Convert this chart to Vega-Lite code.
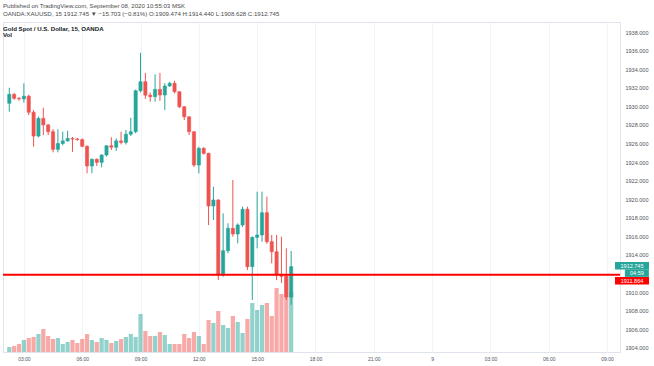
{
  "$schema": "https://vega.github.io/schema/vega-lite/v6.json",
  "width": 617,
  "height": 330,
  "autosize": "none",
  "padding": {"left": 3, "top": 22, "right": 34, "bottom": 14},
  "background": "white",
  "title": {
    "text": ["Published on TradingView.com, September 08, 2020 10:55:03 MSK", "OANDA:XAUUSD, 15  1912.745 ▼ −15.703 (−0.81%) O:1909.474 H:1914.440 L:1908.628 C:1912.745"],
    "subtitle": ["Gold Spot / U.S. Dollar, 15, OANDA", "Vol"],
    "anchor": "start",
    "frame": "group",
    "offset": -16,
    "font": "Liberation Sans",
    "fontSize": 6.1,
    "fontWeight": "normal",
    "color": "#4a4a4a",
    "lineHeight": 8.3,
    "subtitleFont": "Liberation Sans",
    "subtitleFontSize": 6.1,
    "subtitleColor": "#131722",
    "subtitleLineHeight": 6.3,
    "subtitlePadding": 8.5,
    "subtitleFontWeight": "bold"
  },
  "datasets": {
    "candles": [
      {"t": "2020-09-08T02:15:00Z", "o": 1930.33, "h": 1932.00, "l": 1929.42, "c": 1931.29, "v": 500},
      {"t": "2020-09-08T02:30:00Z", "o": 1931.29, "h": 1931.45, "l": 1930.70, "c": 1930.86, "v": 600},
      {"t": "2020-09-08T02:45:00Z", "o": 1930.86, "h": 1931.00, "l": 1930.60, "c": 1930.80, "v": 800},
      {"t": "2020-09-08T03:00:00Z", "o": 1930.80, "h": 1932.48, "l": 1930.40, "c": 1931.10, "v": 1200},
      {"t": "2020-09-08T03:15:00Z", "o": 1931.10, "h": 1931.25, "l": 1929.07, "c": 1929.36, "v": 1400},
      {"t": "2020-09-08T03:30:00Z", "o": 1929.36, "h": 1929.60, "l": 1925.65, "c": 1926.80, "v": 1500},
      {"t": "2020-09-08T03:45:00Z", "o": 1926.80, "h": 1928.90, "l": 1926.66, "c": 1928.70, "v": 1800},
      {"t": "2020-09-08T04:00:00Z", "o": 1928.70, "h": 1929.85, "l": 1926.90, "c": 1928.00, "v": 2300},
      {"t": "2020-09-08T04:15:00Z", "o": 1928.00, "h": 1928.10, "l": 1926.90, "c": 1927.27, "v": 1600},
      {"t": "2020-09-08T04:30:00Z", "o": 1927.27, "h": 1927.56, "l": 1925.05, "c": 1925.37, "v": 1300},
      {"t": "2020-09-08T04:45:00Z", "o": 1925.37, "h": 1927.53, "l": 1925.05, "c": 1926.00, "v": 1400},
      {"t": "2020-09-08T05:00:00Z", "o": 1926.00, "h": 1927.27, "l": 1925.80, "c": 1926.28, "v": 800},
      {"t": "2020-09-08T05:15:00Z", "o": 1926.28, "h": 1927.37, "l": 1926.20, "c": 1926.54, "v": 1000},
      {"t": "2020-09-08T05:30:00Z", "o": 1926.54, "h": 1926.70, "l": 1925.10, "c": 1926.48, "v": 1200},
      {"t": "2020-09-08T05:45:00Z", "o": 1926.48, "h": 1926.60, "l": 1926.30, "c": 1926.42, "v": 900},
      {"t": "2020-09-08T06:00:00Z", "o": 1926.42, "h": 1926.55, "l": 1925.60, "c": 1925.70, "v": 1300},
      {"t": "2020-09-08T06:15:00Z", "o": 1925.70, "h": 1925.80, "l": 1922.80, "c": 1923.58, "v": 1800},
      {"t": "2020-09-08T06:30:00Z", "o": 1923.58, "h": 1924.40, "l": 1922.80, "c": 1924.30, "v": 1200},
      {"t": "2020-09-08T06:45:00Z", "o": 1924.30, "h": 1924.40, "l": 1923.58, "c": 1923.97, "v": 1000},
      {"t": "2020-09-08T07:00:00Z", "o": 1923.97, "h": 1924.85, "l": 1923.44, "c": 1924.76, "v": 1400},
      {"t": "2020-09-08T07:15:00Z", "o": 1924.76, "h": 1925.80, "l": 1924.60, "c": 1925.76, "v": 1200},
      {"t": "2020-09-08T07:30:00Z", "o": 1925.76, "h": 1926.67, "l": 1925.30, "c": 1925.60, "v": 900},
      {"t": "2020-09-08T07:45:00Z", "o": 1925.60, "h": 1926.55, "l": 1925.20, "c": 1926.28, "v": 1100},
      {"t": "2020-09-08T08:00:00Z", "o": 1926.28, "h": 1927.27, "l": 1925.90, "c": 1926.12, "v": 1300},
      {"t": "2020-09-08T08:15:00Z", "o": 1926.12, "h": 1927.45, "l": 1925.90, "c": 1927.00, "v": 1500},
      {"t": "2020-09-08T08:30:00Z", "o": 1927.00, "h": 1928.78, "l": 1926.80, "c": 1927.27, "v": 1800},
      {"t": "2020-09-08T08:45:00Z", "o": 1927.27, "h": 1931.80, "l": 1927.10, "c": 1931.68, "v": 1500},
      {"t": "2020-09-08T09:00:00Z", "o": 1931.68, "h": 1935.77, "l": 1931.50, "c": 1932.65, "v": 3800},
      {"t": "2020-09-08T09:15:00Z", "o": 1932.65, "h": 1933.60, "l": 1930.80, "c": 1931.20, "v": 2100},
      {"t": "2020-09-08T09:30:00Z", "o": 1931.20, "h": 1931.50, "l": 1930.50, "c": 1931.04, "v": 1600},
      {"t": "2020-09-08T09:45:00Z", "o": 1931.04, "h": 1933.45, "l": 1930.50, "c": 1931.83, "v": 1600},
      {"t": "2020-09-08T10:00:00Z", "o": 1931.83, "h": 1933.60, "l": 1930.60, "c": 1931.22, "v": 2000},
      {"t": "2020-09-08T10:15:00Z", "o": 1931.22, "h": 1932.50, "l": 1929.60, "c": 1932.19, "v": 1700},
      {"t": "2020-09-08T10:30:00Z", "o": 1932.19, "h": 1932.65, "l": 1932.10, "c": 1932.48, "v": 800},
      {"t": "2020-09-08T10:45:00Z", "o": 1932.48, "h": 1932.76, "l": 1931.40, "c": 1931.57, "v": 800},
      {"t": "2020-09-08T11:00:00Z", "o": 1931.57, "h": 1931.60, "l": 1929.80, "c": 1929.96, "v": 800},
      {"t": "2020-09-08T11:15:00Z", "o": 1929.96, "h": 1930.00, "l": 1928.53, "c": 1928.88, "v": 1800},
      {"t": "2020-09-08T11:30:00Z", "o": 1928.88, "h": 1928.90, "l": 1926.91, "c": 1927.27, "v": 1400},
      {"t": "2020-09-08T11:45:00Z", "o": 1927.27, "h": 1927.30, "l": 1923.47, "c": 1923.68, "v": 2000},
      {"t": "2020-09-08T12:00:00Z", "o": 1923.68, "h": 1925.65, "l": 1922.79, "c": 1925.48, "v": 1600},
      {"t": "2020-09-08T12:15:00Z", "o": 1925.48, "h": 1925.60, "l": 1924.80, "c": 1924.94, "v": 800},
      {"t": "2020-09-08T12:30:00Z", "o": 1924.94, "h": 1925.00, "l": 1917.22, "c": 1919.27, "v": 3200},
      {"t": "2020-09-08T12:45:00Z", "o": 1919.27, "h": 1921.35, "l": 1917.76, "c": 1919.92, "v": 2900},
      {"t": "2020-09-08T13:00:00Z", "o": 1919.92, "h": 1920.00, "l": 1911.30, "c": 1911.84, "v": 4100},
      {"t": "2020-09-08T13:15:00Z", "o": 1911.84, "h": 1918.48, "l": 1911.66, "c": 1914.46, "v": 2700},
      {"t": "2020-09-08T13:30:00Z", "o": 1914.46, "h": 1917.41, "l": 1914.18, "c": 1916.87, "v": 2400},
      {"t": "2020-09-08T13:45:00Z", "o": 1916.87, "h": 1922.07, "l": 1915.97, "c": 1916.26, "v": 3600},
      {"t": "2020-09-08T14:00:00Z", "o": 1916.26, "h": 1917.40, "l": 1915.25, "c": 1917.23, "v": 3000},
      {"t": "2020-09-08T14:15:00Z", "o": 1917.23, "h": 1919.20, "l": 1917.00, "c": 1918.92, "v": 1900},
      {"t": "2020-09-08T14:30:00Z", "o": 1918.92, "h": 1919.20, "l": 1912.38, "c": 1912.74, "v": 3300},
      {"t": "2020-09-08T14:45:00Z", "o": 1912.74, "h": 1916.00, "l": 1909.15, "c": 1915.90, "v": 4900},
      {"t": "2020-09-08T15:00:00Z", "o": 1915.90, "h": 1920.81, "l": 1914.72, "c": 1916.15, "v": 4200},
      {"t": "2020-09-08T15:15:00Z", "o": 1916.15, "h": 1920.81, "l": 1915.43, "c": 1918.55, "v": 4700},
      {"t": "2020-09-08T15:30:00Z", "o": 1918.55, "h": 1920.27, "l": 1915.20, "c": 1915.43, "v": 4900},
      {"t": "2020-09-08T15:45:00Z", "o": 1915.43, "h": 1916.15, "l": 1913.10, "c": 1914.35, "v": 3600},
      {"t": "2020-09-08T16:00:00Z", "o": 1914.35, "h": 1916.15, "l": 1911.30, "c": 1911.84, "v": 6400},
      {"t": "2020-09-08T16:15:00Z", "o": 1911.84, "h": 1915.97, "l": 1910.98, "c": 1911.70, "v": 5800},
      {"t": "2020-09-08T16:30:00Z", "o": 1911.70, "h": 1914.72, "l": 1909.15, "c": 1909.474, "v": 7700},
      {"t": "2020-09-08T16:45:00Z", "o": 1909.474, "h": 1914.44, "l": 1908.628, "c": 1912.745, "v": 6000}
    ]
  },
  "layer": [
    {
      "data": {"name": "candles"},
      "mark": {"type": "bar", "width": 4.2, "opacity": 0.5},
      "encoding": {
        "x": {"field": "t", "type": "temporal", "title": null,
              "scale": {"type": "utc", "domain": [{"year": 2020, "month": 9, "date": 8, "hours": 2, "minutes": 11, "utc": true}, {"year": 2020, "month": 9, "date": 9, "hours": 9, "minutes": 24, "seconds": 30, "utc": true}]},
              "axis": {"values": [
                {"year": 2020, "month": 9, "date": 8, "hours": 3, "utc": true},
                {"year": 2020, "month": 9, "date": 8, "hours": 6, "utc": true},
                {"year": 2020, "month": 9, "date": 8, "hours": 9, "utc": true},
                {"year": 2020, "month": 9, "date": 8, "hours": 12, "utc": true},
                {"year": 2020, "month": 9, "date": 8, "hours": 15, "utc": true},
                {"year": 2020, "month": 9, "date": 8, "hours": 18, "utc": true},
                {"year": 2020, "month": 9, "date": 8, "hours": 21, "utc": true},
                {"year": 2020, "month": 9, "date": 9, "hours": 0, "utc": true},
                {"year": 2020, "month": 9, "date": 9, "hours": 3, "utc": true},
                {"year": 2020, "month": 9, "date": 9, "hours": 6, "utc": true},
                {"year": 2020, "month": 9, "date": 9, "hours": 9, "utc": true}],
                "labelExpr": "utchours(datum.value) == 0 ? utcFormat(datum.value, '%-d') : utcFormat(datum.value, '%H:%M')",
                "labelPadding": 4, "labelFontSize": 5, "labelFlush": false, "labelColor": "#4c525e"}},
        "y": {"field": "v", "type": "quantitative", "scale": {"domain": [0, 33000]}, "axis": null},
        "color": {"condition": {"test": "datum.c >= datum.o", "value": "#26a69a"}, "value": "#ef5350"}
      }
    },
    {
      "layer": [
        {
          "data": {"name": "candles"},
          "mark": {"type": "rule", "strokeWidth": 1},
          "encoding": {
            "x": {"field": "t", "type": "temporal", "title": null},
            "y": {"field": "l", "type": "quantitative", "title": null,
                  "scale": {"domain": [1903.555, 1939.08], "nice": false, "zero": false},
                  "axis": {"orient": "right", "values": [1904, 1906, 1908, 1910, 1912, 1914, 1916, 1918, 1920, 1922, 1924, 1926, 1928, 1930, 1932, 1934, 1936, 1938], "format": ".3f", "labelPadding": 5, "labelFontSize": 5.5, "labelColor": "#4c525e", "labelOverlap": false}},
            "y2": {"field": "h"},
            "color": {"condition": {"test": "datum.c >= datum.o", "value": "#26a69a"}, "value": "#ef5350"}
          }
        },
        {
          "data": {"name": "candles"},
          "mark": {"type": "bar", "width": 3.2, "strokeWidth": 0.6},
          "encoding": {
            "x": {"field": "t", "type": "temporal", "title": null},
            "y": {"field": "o", "type": "quantitative", "title": null,
                  "axis": {"orient": "right", "values": [1904, 1906, 1908, 1910, 1912, 1914, 1916, 1918, 1920, 1922, 1924, 1926, 1928, 1930, 1932, 1934, 1936, 1938], "format": ".3f", "labelPadding": 5, "labelFontSize": 5.5, "labelColor": "#4c525e", "labelOverlap": false}},
            "y2": {"field": "c"},
            "color": {"condition": {"test": "datum.c >= datum.o", "value": "#26a69a"}, "value": "#ef5350"},
            "stroke": {"condition": {"test": "datum.c >= datum.o", "value": "#26a69a"}, "value": "#ef5350"}
          }
        },
        {
          "data": {"values": [{}]},
          "mark": {"type": "rule", "color": "#ff0000", "strokeWidth": 2},
          "encoding": {
            "y": {"datum": 1911.864, "type": "quantitative", "title": null,
                  "axis": {"orient": "right", "values": [1904, 1906, 1908, 1910, 1912, 1914, 1916, 1918, 1920, 1922, 1924, 1926, 1928, 1930, 1932, 1934, 1936, 1938], "format": ".3f", "labelPadding": 5, "labelFontSize": 5.5, "labelColor": "#4c525e", "labelOverlap": false}}
          }
        },
        {
          "data": {"values": [{}]},
          "mark": {"type": "tick", "orient": "horizontal", "size": 34, "thickness": 7.5, "color": "#26a69a", "opacity": 1, "yOffset": -1},
          "encoding": {
            "x": {"datum": {"year": 2020, "month": 9, "date": 9, "hours": 10, "minutes": 17, "utc": true}, "type": "temporal"},
            "y": {"datum": 1912.745, "type": "quantitative", "title": null,
                  "axis": {"orient": "right", "values": [1904, 1906, 1908, 1910, 1912, 1914, 1916, 1918, 1920, 1922, 1924, 1926, 1928, 1930, 1932, 1934, 1936, 1938], "format": ".3f", "labelPadding": 5, "labelFontSize": 5.5, "labelColor": "#4c525e", "labelOverlap": false}}
          }
        },
        {
          "data": {"values": [{}]},
          "mark": {"type": "text", "fontSize": 5.5, "color": "white", "align": "center", "baseline": "middle", "yOffset": -1},
          "encoding": {
            "x": {"datum": {"year": 2020, "month": 9, "date": 9, "hours": 10, "minutes": 17, "utc": true}, "type": "temporal"},
            "y": {"datum": 1912.745, "type": "quantitative", "title": null,
                  "axis": {"orient": "right", "values": [1904, 1906, 1908, 1910, 1912, 1914, 1916, 1918, 1920, 1922, 1924, 1926, 1928, 1930, 1932, 1934, 1936, 1938], "format": ".3f", "labelPadding": 5, "labelFontSize": 5.5, "labelColor": "#4c525e", "labelOverlap": false}},
            "text": {"value": "1912.745"}
          }
        },
        {
          "data": {"values": [{}]},
          "mark": {"type": "tick", "orient": "horizontal", "size": 24, "thickness": 7.5, "color": "#26a69a", "opacity": 1, "yOffset": 6.5},
          "encoding": {
            "x": {"datum": {"year": 2020, "month": 9, "date": 9, "hours": 10, "minutes": 32, "utc": true}, "type": "temporal"},
            "y": {"datum": 1912.745, "type": "quantitative", "title": null,
                  "axis": {"orient": "right", "values": [1904, 1906, 1908, 1910, 1912, 1914, 1916, 1918, 1920, 1922, 1924, 1926, 1928, 1930, 1932, 1934, 1936, 1938], "format": ".3f", "labelPadding": 5, "labelFontSize": 5.5, "labelColor": "#4c525e", "labelOverlap": false}}
          }
        },
        {
          "data": {"values": [{}]},
          "mark": {"type": "text", "fontSize": 5.5, "color": "white", "align": "center", "baseline": "middle", "yOffset": 6.5},
          "encoding": {
            "x": {"datum": {"year": 2020, "month": 9, "date": 9, "hours": 10, "minutes": 32, "utc": true}, "type": "temporal"},
            "y": {"datum": 1912.745, "type": "quantitative", "title": null,
                  "axis": {"orient": "right", "values": [1904, 1906, 1908, 1910, 1912, 1914, 1916, 1918, 1920, 1922, 1924, 1926, 1928, 1930, 1932, 1934, 1936, 1938], "format": ".3f", "labelPadding": 5, "labelFontSize": 5.5, "labelColor": "#4c525e", "labelOverlap": false}},
            "text": {"value": "04:59"}
          }
        },
        {
          "data": {"values": [{}]},
          "mark": {"type": "tick", "orient": "horizontal", "size": 34, "thickness": 7.5, "color": "#ff0000", "opacity": 1, "yOffset": 6},
          "encoding": {
            "x": {"datum": {"year": 2020, "month": 9, "date": 9, "hours": 10, "minutes": 17, "utc": true}, "type": "temporal"},
            "y": {"datum": 1911.864, "type": "quantitative", "title": null,
                  "axis": {"orient": "right", "values": [1904, 1906, 1908, 1910, 1912, 1914, 1916, 1918, 1920, 1922, 1924, 1926, 1928, 1930, 1932, 1934, 1936, 1938], "format": ".3f", "labelPadding": 5, "labelFontSize": 5.5, "labelColor": "#4c525e", "labelOverlap": false}}
          }
        },
        {
          "data": {"values": [{}]},
          "mark": {"type": "text", "fontSize": 5.5, "color": "white", "align": "center", "baseline": "middle", "yOffset": 6},
          "encoding": {
            "x": {"datum": {"year": 2020, "month": 9, "date": 9, "hours": 10, "minutes": 17, "utc": true}, "type": "temporal"},
            "y": {"datum": 1911.864, "type": "quantitative", "title": null,
                  "axis": {"orient": "right", "values": [1904, 1906, 1908, 1910, 1912, 1914, 1916, 1918, 1920, 1922, 1924, 1926, 1928, 1930, 1932, 1934, 1936, 1938], "format": ".3f", "labelPadding": 5, "labelFontSize": 5.5, "labelColor": "#4c525e", "labelOverlap": false}},
            "text": {"value": "1911.864"}
          }
        }
      ]
    }
  ],
  "resolve": {"scale": {"y": "independent"}},
  "config": {
    "view": {"stroke": "#e0e3eb"},
    "font": "Liberation Sans",
    "axis": {"grid": true, "gridColor": "#f0f3fa", "domain": false, "ticks": false, "labelFont": "Liberation Sans", "labelOverlap": false},
    "axisY": {"labelOverlap": false},
    "text": {"font": "Liberation Sans"}
  }
}
